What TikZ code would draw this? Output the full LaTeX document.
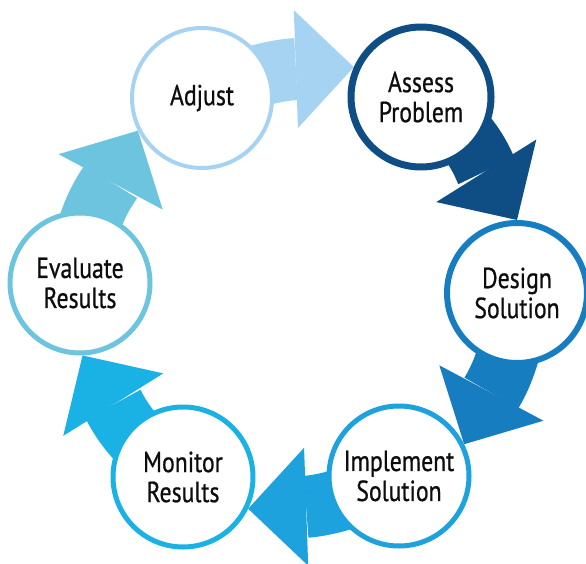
\documentclass[tikz,border=0pt]{standalone}
\usepackage{fontspec}
\setmainfont{PT Sans}[FakeStretch=0.82, FakeBold=0.7]
\usetikzlibrary{arrows.meta,backgrounds}
\definecolor{adjustblue}{HTML}{A6D3F2}
\definecolor{assessblue}{HTML}{0E4E84}
\definecolor{designblue}{HTML}{177DC1}
\definecolor{implementblue}{HTML}{1DA2DD}
\definecolor{monitorblue}{HTML}{1AB2E4}
\definecolor{evaluateblue}{HTML}{6CC4DF}
\tikzset{
  stage/.style={circle, draw=#1, fill=white, line width=5pt, minimum size=140pt,
    inner sep=0pt, align=center, text=black!95, font=\fontsize{29}{30}\selectfont},
  flow/.style={draw=#1, line width=62pt, -{Triangle[width=118pt,length=58pt,line width=0pt]}}
}
\begin{document}
\begin{tikzpicture}[x=1pt,y=1pt]
			\useasboundingbox (0,0) rectangle (586,563);
			\node[stage=adjustblue, line width=4pt] (adjust) at (202,465) {Adjust};
			\node[stage=assessblue, line width=7pt] (assess) at (421,466) {Assess\\Problem};
			\node[stage=designblue, line width=6pt] (design) at (517,270) {Design\\Solution};
			\node[stage=implementblue] (implement) at (399,87) {Implement\\Solution};
			\node[stage=monitorblue] (monitor) at (183,86) {Monitor\\Results};
			\node[stage=evaluateblue] (evaluate) at (80,280) {Evaluate\\Results};
			\begin{scope}[on background layer]
			\draw[flow=adjustblue] (adjust.center) to[out=27,in=182] (assess.156);
			\draw[flow=assessblue] (assess.center) to[out=-32,in=122] (design.90);
			\draw[flow=designblue] (design.center) to[out=-91,in=62] (implement.26);
			\draw[flow=implementblue] (implement.center) to[out=-152,in=2] (monitor.-26);
			\draw[flow=monitorblue] (monitor.center) to[out=148,in=-58] (evaluate.-88);
			\draw[flow=evaluateblue] (evaluate.center) to[out=89,in=242] (adjust.207);
			\end{scope}
\end{tikzpicture}
\end{document}
